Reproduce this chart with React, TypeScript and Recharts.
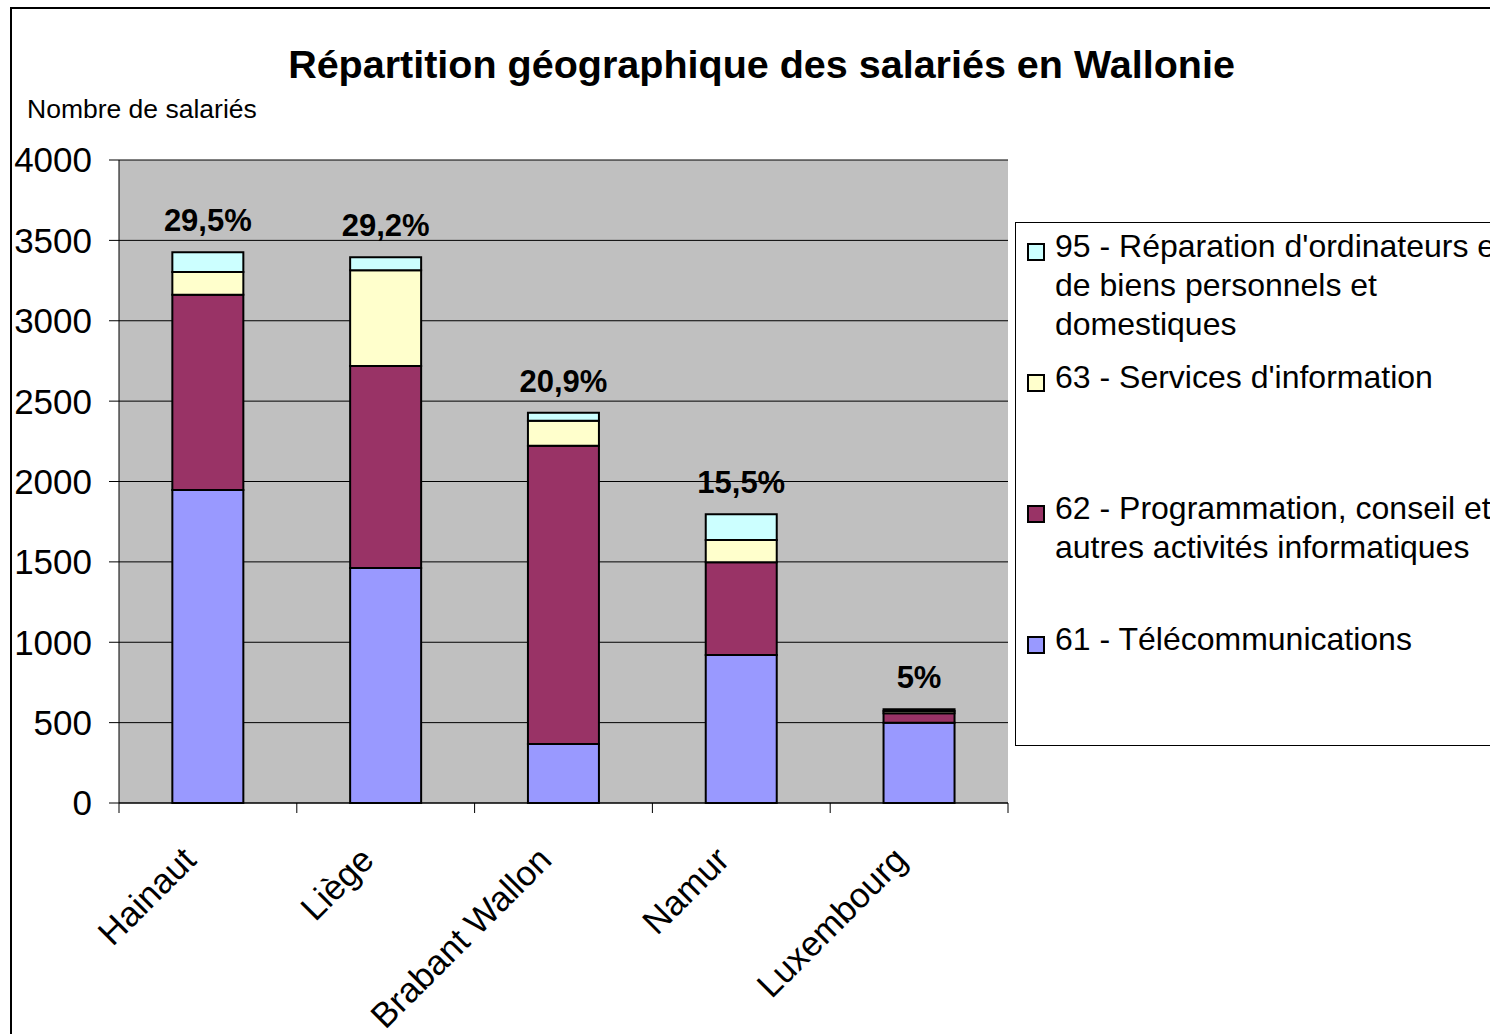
import { BarChart, Bar, XAxis, YAxis, CartesianGrid, LabelList } from 'recharts';

const regions = ['Hainaut', 'Liège', 'Brabant Wallon', 'Namur', 'Luxembourg'];
const telecom = [1947, 1462, 367, 921, 500];
const programmation = [1215, 1256, 1856, 576, 58];
const information = [141, 596, 155, 139, 15];
const reparation = [123, 81, 50, 160, 10];
const shares = ['29,5%', '29,2%', '20,9%', '15,5%', '5%'];
const yTicks = [0, 500, 1000, 1500, 2000, 2500, 3000, 3500, 4000];

const FONT = '"Liberation Sans", Arial, sans-serif';

// stacking order bottom -> top
const series = [
  { key: 'd61', color: '#9999FF', lines: ['61 - Télécommunications'] },
  { key: 'd62', color: '#993366', lines: ['62 - Programmation, conseil et', 'autres activités informatiques'] },
  { key: 'd63', color: '#FFFFCC', lines: ['63 - Services d\'information'] },
  { key: 'd95', color: '#CCFFFF', lines: ['95 - Réparation d\'ordinateurs et', 'de biens personnels et', 'domestiques'] },
];

const data = regions.map((region, i) => ({
  region,
  d61: telecom[i],
  d62: programmation[i],
  d63: information[i],
  d95: reparation[i],
  share: shares[i],
}));

// label + tick marks on the category boundaries (Excel style)
const RegionTick = (props: any) => {
  const { x, y, payload, index } = props;
  const half = payload?.offset ?? 0;
  const ax = x - 10;
  const ay = y + 59;
  return (
    <g>
      <line x1={x - half} x2={x - half} y1={y} y2={y + 10} stroke="#000" />
      {index === regions.length - 1 && (
        <line x1={x + half} x2={x + half} y1={y} y2={y + 10} stroke="#000" />
      )}
      <text
        x={ax}
        y={ay}
        transform={`rotate(-45 ${ax} ${ay})`}
        textAnchor="end"
        fontSize={35}
        fontFamily={FONT}
        fill="#000"
      >
        {payload.value}
      </text>
    </g>
  );
};

const ShareLabel = (props: any) => {
  const { x, y, width, value } = props;
  return (
    <text
      x={x + width / 2}
      y={y - 21}
      textAnchor="middle"
      fontSize={31}
      fontWeight="bold"
      fontFamily={FONT}
      fill="#000"
    >
      {value}
    </text>
  );
};

export default function App() {
  const legendItems = [...series].reverse();
  return (
    <div
      style={{
        position: 'absolute',
        left: 0,
        top: 0,
        width: 1490,
        height: 1034,
        overflow: 'hidden',
        background: '#fff',
        fontFamily: FONT,
      }}
    >
      {/* cadre extérieur */}
      <div
        style={{
          position: 'absolute',
          left: 10,
          top: 7,
          width: 1600,
          height: 1200,
          border: '2px solid #000',
        }}
      />
      <div
        style={{
          position: 'absolute',
          left: 0,
          width: 1523,
          top: 44,
          textAlign: 'center',
          fontSize: 39.5,
          fontWeight: 'bold',
          lineHeight: '40px',
        }}
      >
        Répartition géographique des salariés en Wallonie
      </div>
      <div style={{ position: 'absolute', left: 27, top: 94, fontSize: 26.5, lineHeight: '30px' }}>
        Nombre de salariés
      </div>

      <div style={{ position: 'absolute', left: 0, top: 0 }}>
        <BarChart
          width={1490}
          height={1034}
          data={data}
          margin={{ top: 160, right: 482, bottom: 0, left: 0 }}
          barCategoryGap="30%"
        >
          <CartesianGrid vertical={false} fill="#C0C0C0" stroke="#000" strokeWidth={1} />
          <XAxis
            dataKey="region"
            height={231}
            tickLine={false}
            axisLine={{ stroke: '#000' }}
            tickSize={0}
            tickMargin={0}
            interval={0}
            tick={<RegionTick />}
          />
          <YAxis
            width={119}
            domain={[0, 4000]}
            ticks={yTicks}
            interval={0}
            tickSize={10}
            tickMargin={17}
            tickLine={{ stroke: '#000' }}
            axisLine={{ stroke: '#000' }}
            tick={{ fontSize: 35, fill: '#000', fontFamily: FONT }}
          />
          <YAxis
            yAxisId="right"
            orientation="right"
            width={0}
            domain={[0, 4000]}
            tick={false}
            tickLine={false}
            axisLine={{ stroke: '#808080' }}
          />
          {series.map((s, i) => (
            <Bar
              key={s.key}
              dataKey={s.key}
              stackId="a"
              fill={s.color}
              stroke="#000"
              strokeWidth={2}
              isAnimationActive={false}
            >
              {i === series.length - 1 && <LabelList dataKey="share" content={<ShareLabel />} />}
            </Bar>
          ))}
        </BarChart>
      </div>

      {/* légende */}
      <div
        style={{
          position: 'absolute',
          left: 1015,
          top: 222,
          width: 600,
          height: 524,
          border: '1px solid #000',
          background: '#fff',
          boxSizing: 'border-box',
        }}
      >
        {legendItems.map((s, i) => (
          <div key={s.key} style={{ position: 'absolute', left: 0, top: 4 + i * 131, width: 600 }}>
            <div
              style={{
                position: 'absolute',
                left: 11,
                top: 16,
                width: 14,
                height: 14,
                background: s.color,
                border: '2px solid #000',
              }}
            />
            <div style={{ position: 'absolute', left: 39, top: 0, fontSize: 32, lineHeight: '39px', whiteSpace: 'nowrap' }}>
              {s.lines.map((l) => (
                <div key={l}>{l}</div>
              ))}
            </div>
          </div>
        ))}
      </div>
    </div>
  );
}
